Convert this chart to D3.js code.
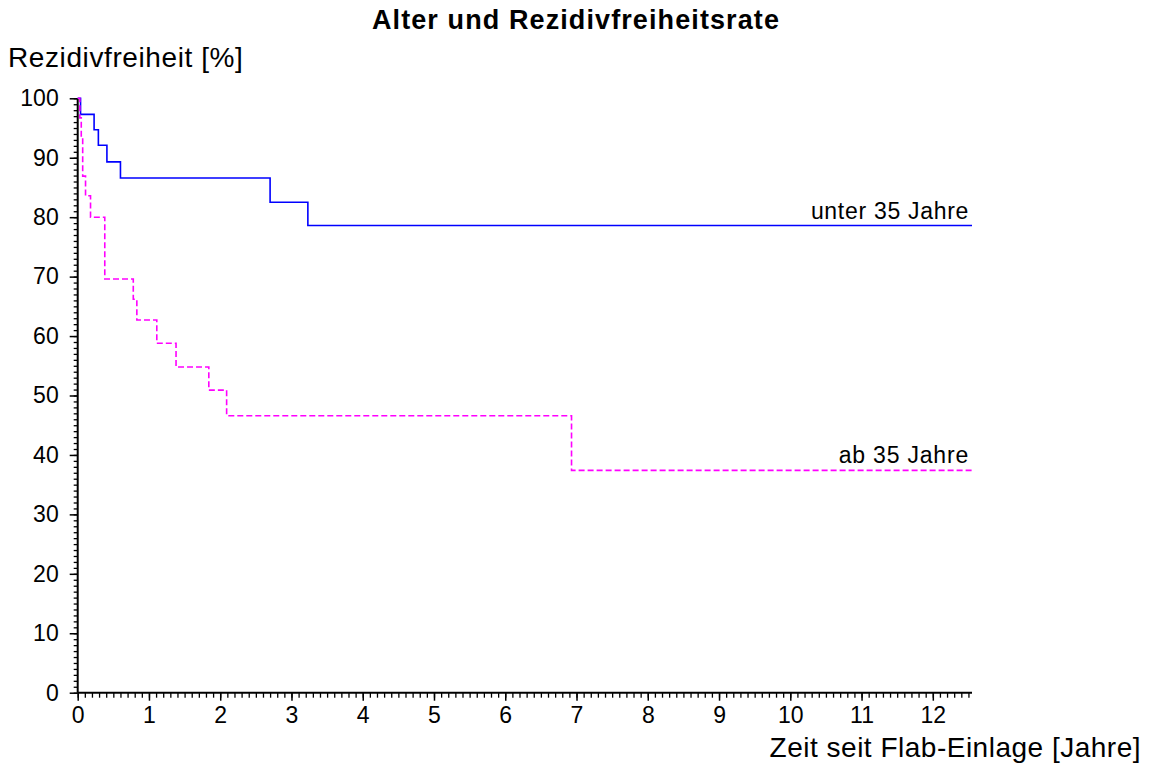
<!DOCTYPE html>
<html>
<head>
<meta charset="utf-8">
<script src="https://cdn.jsdelivr.net/npm/d3@7"></script>
<style>
  html, body { margin: 0; padding: 0; background: #fff; }
  svg { display: block; font-family: "Liberation Sans", Arial, Helvetica, sans-serif; }
</style>
</head>
<body>
<svg id="chart" width="1150" height="765"></svg>
<script>
// Kaplan-Meier step curves: time in years, recurrence-free rate in %
const groups = ["unter 35 Jahre", "ab 35 Jahre"];
const timeUnter = [0, 0.04, 0.23, 0.29, 0.41, 0.60, 2.70, 3.23, 12.55];
const survUnter = [100, 97.3, 94.7, 92.1, 89.3, 86.6, 82.5, 78.6, 78.6];
const timeAb = [0, 0.03, 0.05, 0.07, 0.11, 0.18, 0.38, 0.78, 0.83, 1.11, 1.38, 1.84, 2.09, 6.93, 12.55];
const survAb = [100, 96.7, 93.5, 86.9, 83.6, 80.0, 69.6, 66.2, 62.7, 58.8, 54.8, 50.9, 46.6, 37.4, 37.4];
const xMajorTicks = [0, 1, 2, 3, 4, 5, 6, 7, 8, 9, 10, 11, 12];
const yMajorTicks = [0, 10, 20, 30, 40, 50, 60, 70, 80, 90, 100];

const svg = d3.select("#chart");

const x = d3.scaleLinear().domain([0, 12.55]).range([77.7, 972]);
const y = d3.scaleLinear().domain([0, 100]).range([692.7, 98.3]);

// minor ticks
const xMinor = d3.range(0, 12.55, 0.1).map(v => +v.toFixed(1));
const yMinor = d3.range(0, 101, 1);

// y axis
const gy = svg.append("g").attr("transform", `translate(${x(0)},0)`);
gy.call(d3.axisLeft(y).tickValues(yMinor).tickSize(4).tickFormat(""));
gy.call(g => g.selectAll(".tick line").attr("stroke-width", 1.3));
const gyMajor = svg.append("g").attr("transform", `translate(${x(0)},0)`);
gyMajor.call(d3.axisLeft(y).tickValues(yMajorTicks).tickSize(8).tickPadding(11).tickFormat(d3.format("d")));
gyMajor.select(".domain").remove();
gyMajor.selectAll(".tick line").attr("stroke-width", 1.5);
gyMajor.selectAll(".tick text").attr("font-size", 23).attr("fill", "#000")
  .attr("font-family", "'Liberation Sans', Arial, sans-serif");
gy.select(".domain").attr("stroke-width", 2).attr("d", `M0,${y(0)}V${y(100)}`);

// x axis
const gx = svg.append("g").attr("transform", `translate(0,${y(0)})`);
gx.call(d3.axisBottom(x).tickValues(xMinor).tickSize(5).tickFormat(""));
gx.call(g => g.selectAll(".tick line").attr("stroke-width", 1.3));
gx.select(".domain").attr("stroke-width", 2).attr("d", `M${x(0)},0H${x(12.55)}`);
const gxMajor = svg.append("g").attr("transform", `translate(0,${y(0)})`);
gxMajor.call(d3.axisBottom(x).tickValues(xMajorTicks).tickSize(8).tickPadding(6).tickFormat(d3.format("d")));
gxMajor.select(".domain").remove();
gxMajor.selectAll(".tick line").attr("stroke-width", 1.5);
gxMajor.selectAll(".tick text").attr("font-size", 23).attr("fill", "#000")
  .attr("font-family", "'Liberation Sans', Arial, sans-serif");

// survival curves
const line = d3.line().x(d => x(d[0])).y(d => y(d[1])).curve(d3.curveStepAfter);
const seriesUnter = timeUnter.map((t, i) => [t, survUnter[i]]);
const seriesAb = timeAb.map((t, i) => [t, survAb[i]]);

svg.append("path").datum(seriesUnter)
  .attr("d", line).attr("fill", "none")
  .attr("stroke", "#0000ff").attr("stroke-width", 1.6);

svg.append("path").datum(seriesAb)
  .attr("d", line).attr("fill", "none")
  .attr("stroke", "#ff00ff").attr("stroke-width", 1.6)
  .attr("stroke-dasharray", "6,3");

// curve labels
const lastUnter = seriesUnter[seriesUnter.length - 1];
const lastAb = seriesAb[seriesAb.length - 1];
svg.append("text")
  .attr("x", x(lastUnter[0]) - 3).attr("y", y(lastUnter[1]) - 7)
  .attr("text-anchor", "end").attr("font-size", 23).attr("letter-spacing", 0.7)
  .text(groups[0]);
svg.append("text")
  .attr("x", x(lastAb[0]) - 3).attr("y", y(lastAb[1]) - 7)
  .attr("text-anchor", "end").attr("font-size", 23).attr("letter-spacing", 0.8)
  .text(groups[1]);

// titles
svg.append("text")
  .attr("x", 576).attr("y", 29)
  .attr("text-anchor", "middle").attr("font-size", 27).attr("font-weight", "bold")
  .attr("letter-spacing", 1.1)
  .text("Alter und Rezidivfreiheitsrate");

svg.append("text")
  .attr("x", 8).attr("y", 67)
  .attr("font-size", 28).attr("letter-spacing", 0.6)
  .text("Rezidivfreiheit [%]");

svg.append("text")
  .attr("x", 1141).attr("y", 757)
  .attr("text-anchor", "end").attr("font-size", 28).attr("letter-spacing", 0.5)
  .text("Zeit seit Flab-Einlage [Jahre]");
</script>
</body>
</html>
